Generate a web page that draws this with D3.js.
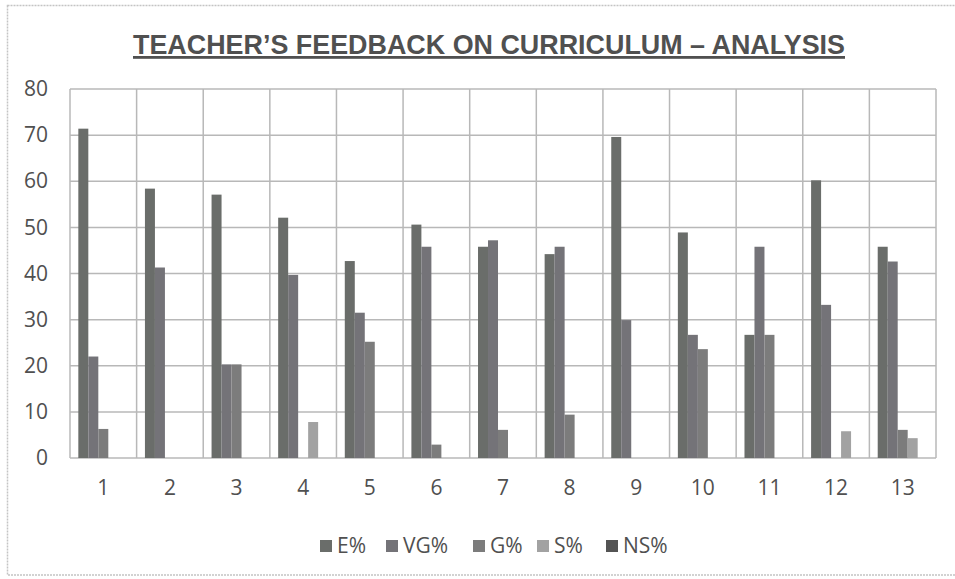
<!DOCTYPE html>
<html>
<head>
<meta charset="utf-8">
<script src="https://cdn.jsdelivr.net/npm/d3@7"></script>
<style>
  body { margin: 0; background: #fff; }
  svg { display: block; }
</style>
</head>
<body>
<svg id="chart"></svg>
<script>
// chart data
const groups = ["1", "2", "3", "4", "5", "6", "7", "8", "9", "10", "11", "12", "13"];
const series = ["E%", "VG%", "G%", "S%", "NS%"];
const ePct  = [71.4, 58.4, 57.1, 52.1, 42.7, 50.6, 45.8, 44.2, 69.6, 48.9, 26.7, 60.2, 45.8];
const vgPct = [22.0, 41.3, 20.3, 39.7, 31.5, 45.8, 47.2, 45.8, 29.9, 26.7, 45.8, 33.2, 42.6];
const gPct  = [6.3, 0, 20.3, 0, 25.2, 2.9, 6.1, 9.4, 0, 23.6, 26.7, 0, 6.1];
const sPct  = [0, 0, 0, 7.8, 0, 0, 0, 0, 0, 0, 0, 5.8, 4.3];
const nsPct = [0, 0, 0, 0, 0, 0, 0, 0, 0, 0, 0, 0, 0];
const yTicks = [0, 10, 20, 30, 40, 50, 60, 70, 80];

const values = [ePct, vgPct, gPct, sPct, nsPct];
const colors = ["#6a6d6a", "#747378", "#7c7c7c", "#a2a2a2", "#545454"];

const width = 955;
const height = 579;
const margin = {top: 89, right: 19, bottom: 121, left: 70};

const svg = d3.select("#chart")
    .attr("width", width)
    .attr("height", height);

// outer frame of the chart
svg.append("rect")
    .attr("x", 7.5).attr("y", 5.5)
    .attr("width", 960).attr("height", 569.5)
    .attr("fill", "none")
    .attr("stroke", "#c4c4c4")
    .attr("stroke-width", 1.5)
    .attr("stroke-dasharray", "2,1");

const x0 = d3.scaleBand()
    .domain(groups)
    .range([margin.left, width - margin.right])
    .paddingInner(0.25)
    .paddingOuter(0.125);

const x1 = d3.scaleBand()
    .domain(series)
    .range([0, x0.bandwidth()]);

const y = d3.scaleLinear()
    .domain([0, 80])
    .range([height - margin.bottom, margin.top]);

const color = d3.scaleOrdinal(series, colors);

// grid
const grid = svg.append("g")
    .attr("stroke", "#b8b8b8")
    .attr("stroke-width", 1.5);

grid.selectAll("line.h")
    .data(yTicks)
    .join("line")
        .attr("class", "h")
        .attr("x1", margin.left)
        .attr("x2", width - margin.right)
        .attr("y1", d => y(d))
        .attr("y2", d => y(d));

const step = x0.step();
grid.selectAll("line.v")
    .data(groups.concat(["end"]))
    .join("line")
        .attr("class", "v")
        .attr("x1", (d, i) => margin.left + i * step)
        .attr("x2", (d, i) => margin.left + i * step)
        .attr("y1", y(0))
        .attr("y2", y(80));

// bars
const rows = groups.map((g, i) => ({group: g, vals: series.map((s, k) => ({key: s, value: values[k][i]}))}));

svg.append("g")
    .selectAll("g")
    .data(rows)
    .join("g")
        .attr("transform", d => `translate(${x0(d.group)},0)`)
    .selectAll("rect")
    .data(d => d.vals.filter(v => v.value > 0))
    .join("rect")
        .attr("x", d => x1(d.key))
        .attr("width", x1.bandwidth())
        .attr("y", d => y(d.value))
        .attr("height", d => y(0) - y(d.value))
        .attr("fill", d => color(d.key));

// axes
const yAxis = svg.append("g")
    .attr("transform", `translate(${margin.left},0)`)
    .call(d3.axisLeft(y).tickValues(yTicks).tickSize(0).tickPadding(22));
yAxis.select(".domain").remove();
yAxis.selectAll("text")
    .attr("font-family", "'Open Sans', sans-serif")
    .attr("font-size", 21)
    .attr("fill", "#505050");

const xAxis = svg.append("g")
    .attr("transform", `translate(0,${y(0)})`)
    .call(d3.axisBottom(x0).tickSize(0).tickPadding(22));
xAxis.select(".domain").remove();
xAxis.selectAll("text")
    .attr("font-family", "'Open Sans', sans-serif")
    .attr("font-size", 21)
    .attr("fill", "#505050");

// title
svg.append("text")
    .attr("x", 489)
    .attr("y", 54)
    .attr("text-anchor", "middle")
    .attr("font-family", "'Liberation Sans Narrow', 'Liberation Sans', sans-serif")
    .attr("font-weight", "bold")
    .attr("font-size", 28)
    .attr("fill", "#505050")
    .attr("text-decoration", "underline")
    .attr("textLength", 712)
    .attr("lengthAdjust", "spacingAndGlyphs")
    .text("TEACHER\u2019S FEEDBACK ON CURRICULUM \u2013 ANALYSIS");

// legend
const legendX = [320, 386, 473, 537, 606];
const legend = svg.append("g")
    .selectAll("g")
    .data(series)
    .join("g")
        .attr("transform", (d, i) => `translate(${legendX[i]},540)`);

legend.append("rect")
    .attr("width", 12)
    .attr("height", 12)
    .attr("fill", d => color(d));

legend.append("text")
    .attr("x", 17)
    .attr("y", 13)
    .attr("font-family", "'Open Sans', sans-serif")
    .attr("font-size", 21)
    .attr("fill", "#505050")
    .text(d => d);
</script>
</body>
</html>
